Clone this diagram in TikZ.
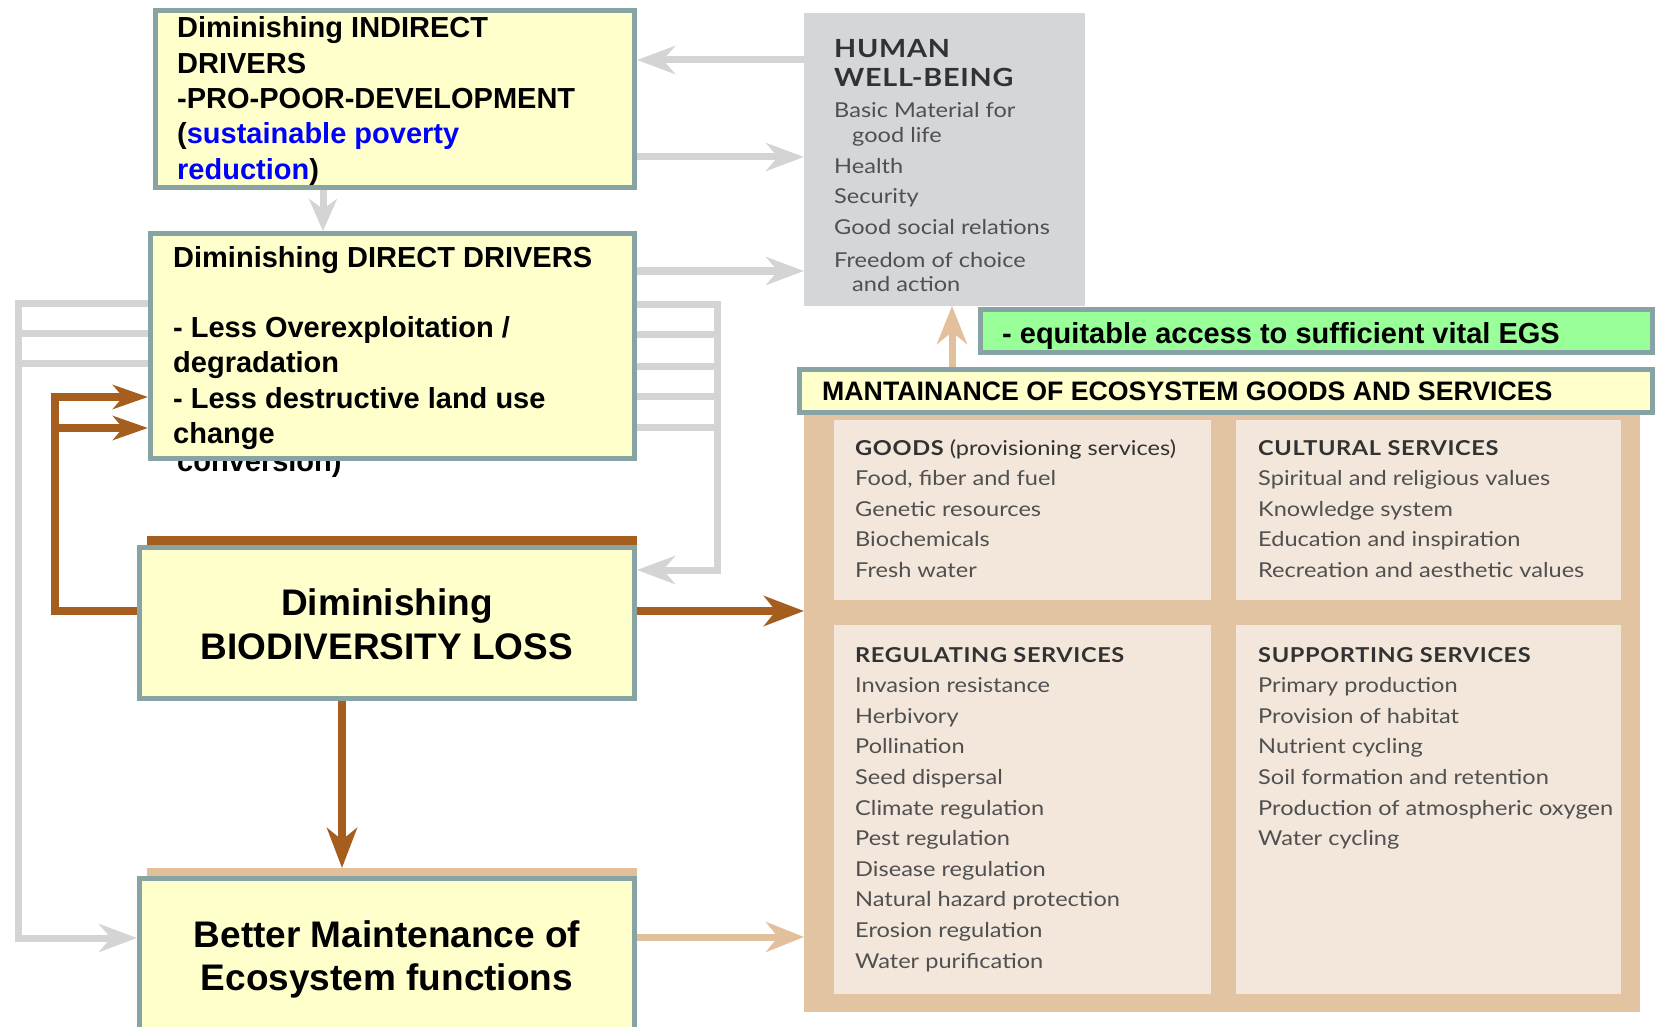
\documentclass[tikz,border=0pt]{standalone}
\usepackage{fontspec}
\setmainfont{Liberation Sans}
\newfontfamily\mafont[FakeStretch=1.15]{Lato}
\newfontfamily\maheadfont[FakeStretch=1.15,LetterSpace=3]{Lato}
\usetikzlibrary{arrows.meta}
\definecolor{boxborder}{RGB}{135,163,163}
\definecolor{boxfill}{RGB}{255,255,204}
\definecolor{conngray}{RGB}{212,212,212}
\definecolor{brownc}{RGB}{166,94,30}
\definecolor{tanarrow}{RGB}{226,192,156}
\definecolor{tanpanel}{RGB}{227,196,162}
\definecolor{cellfill}{RGB}{243,231,219}
\definecolor{hwbfill}{RGB}{212,214,217}
\definecolor{greenfill}{RGB}{153,255,153}
\definecolor{matext}{RGB}{80,80,80}
\definecolor{mahead}{RGB}{50,50,50}
\definecolor{bluetext}{RGB}{0,0,255}
\begin{document}
\begin{tikzpicture}[x=1pt,y=-1pt,
  box/.style={draw=boxborder, fill=boxfill, line width=5pt, inner sep=0pt},
  plain/.style={inner sep=0pt, outer sep=0pt, draw=none},
  gline/.style={draw=conngray, line width=7pt},
  garrow/.style={gline, -{Stealth[length=38pt,width=28pt,inset=12pt]}},
  gsmall/.style={gline, -{Stealth[length=32pt,width=28pt,inset=10pt]}},
  bline/.style={draw=brownc, line width=8pt},
  barrow/.style={bline, -{Stealth[length=40pt,width=30pt,inset=12pt]}},
  bsmall/.style={bline, -{Stealth[length=35pt,width=24pt,inset=10pt]}},
  tarrow/.style={draw=tanarrow, line width=7pt, -{Stealth[length=38pt,width=30pt,inset=12pt]}},
  drvtext/.style={anchor=base west, inner sep=0pt, font=\fontsize{29pt}{35pt}\selectfont\bfseries},
  bigtext/.style={anchor=base, inner sep=0pt, font=\fontsize{37pt}{43pt}\selectfont\bfseries},
  hwbhead/.style={anchor=base west, inner sep=0pt, text=mahead, font=\maheadfont\fontsize{25pt}{30pt}\selectfont\bfseries},
  hwbitem/.style={anchor=base west, inner sep=0pt, text=matext, font=\mafont\fontsize{20.5pt}{25pt}\selectfont},
  cellhead/.style={anchor=base west, inner sep=0pt, text=mahead, font=\maheadfont\fontsize{20.5pt}{25pt}\selectfont\bfseries},
  cellitem/.style={anchor=base west, inner sep=0pt, text=matext, font=\mafont\fontsize{20.5pt}{25pt}\selectfont}
]
\useasboundingbox (0,0) rectangle (1655,1027);
\clip (0,0) rectangle (1655,1027);

% right-hand panels
\node[plain, fill=hwbfill, minimum width=281pt, minimum height=293pt] (hwb) at (944.5,159.5) {};
\node[plain, fill=tanpanel, minimum width=836pt, minimum height=612pt] (pan) at (1222,706) {};
\node[plain, fill=cellfill, minimum width=377pt, minimum height=180pt] (cgood) at (1022.5,510) {};
\node[plain, fill=cellfill, minimum width=385pt, minimum height=180pt] (ccult) at (1428.5,510) {};
\node[plain, fill=cellfill, minimum width=377pt, minimum height=369pt] (creg) at (1022.5,809.5) {};
\node[plain, fill=cellfill, minimum width=385pt, minimum height=369pt] (csup) at (1428.5,809.5) {};

% human well-being text
\node[hwbhead] (h1) at (834,58) {HUMAN};
\node[hwbhead] (h2) at (834,87) {WELL-BEING};
\node[hwbitem] (h3) at (834,118) {Basic Material for};
\node[hwbitem] (h4) at (852,143) {good life};
\node[hwbitem] (h5) at (834,174) {Health};
\node[hwbitem] (h6) at (834,204) {Security};
\node[hwbitem] (h7) at (834,235) {Good social relations};
\node[hwbitem] (h8) at (834,267) {Freedom of choice};
\node[hwbitem] (h9) at (852,291) {and action};

% cell texts
\node[cellhead] (g0) at (855,455) {GOODS{\mafont\mdseries\ (provisioning services)}};
\foreach \t [count=\i] in {{Food, fiber and fuel},Genetic resources,Biochemicals,Fresh water}
  \node[cellitem] (g\i) at (855,455+30.6*\i) {\t};
\node[cellhead] (c0) at (1258,455) {CULTURAL SERVICES};
\foreach \t [count=\i] in {Spiritual and religious values,Knowledge system,Education and inspiration,Recreation and aesthetic values}
  \node[cellitem] (c\i) at (1258,455+30.6*\i) {\t};
\node[cellhead] (r0) at (855,662) {REGULATING SERVICES};
\foreach \t [count=\i] in {Invasion resistance,Herbivory,Pollination,Seed dispersal,Climate regulation,Pest regulation,Disease regulation,Natural hazard protection,Erosion regulation,Water purification}
  \node[cellitem] (r\i) at (855,662+30.6*\i) {\t};
\node[cellhead] (s0) at (1258,662) {SUPPORTING SERVICES};
\foreach \t [count=\i] in {Primary production,Provision of habitat,Nutrient cycling,Soil formation and retention,Production of atmospheric oxygen,Water cycling}
  \node[cellitem] (s\i) at (1258,662+30.6*\i) {\t};

% clipped text under the direct-drivers box
\node[drvtext] (conv) at (177,471) {conversion)};

% boxes
\node[box, minimum width=479pt, minimum height=177pt] (ind) at (395,99) {};
\node[box, minimum width=484pt, minimum height=225pt] (dir) at (392.5,346) {};
\node[plain, fill=brownc, minimum width=490pt, minimum height=11pt] (biobar) at (392,541.5) {};
\node[box, minimum width=495pt, minimum height=151pt] (bio) at (387,623) {};
\node[plain, fill=tanarrow, minimum width=490pt, minimum height=10pt] (betbar) at (392,873) {};
\node[box, minimum width=495pt, minimum height=170pt] (bet) at (387,963.5) {};
\node[box, fill=greenfill, minimum width=672pt, minimum height=43pt] (grn) at (1316.5,331) {};
\node[box, minimum width=853pt, minimum height=43pt] (mnt) at (1226,391) {};

% box texts
\node[drvtext] (i1) at (177,38) {Diminishing INDIRECT};
\node[drvtext] (i2) at (177,73.5) {DRIVERS};
\node[drvtext] (i3) at (177,109) {-PRO-POOR-DEVELOPMENT};
\node[drvtext] (i4) at (177,144) {(\textcolor{bluetext}{sustainable poverty}};
\node[drvtext] (i5) at (177,179.5) {\textcolor{bluetext}{reduction})};
\node[drvtext] (d1) at (173,267) {Diminishing DIRECT DRIVERS};
\node[drvtext] (d2) at (173,337) {- Less Overexploitation /};
\node[drvtext] (d3) at (173,372) {degradation};
\node[drvtext] (d4) at (173,408) {- Less destructive land use};
\node[drvtext] (d5) at (173,443) {change};
\node[bigtext] (b1) at (387,615) {Diminishing};
\node[bigtext] (b2) at (387,659) {BIODIVERSITY LOSS};
\node[bigtext] (e1) at (387,947) {Better Maintenance of};
\node[bigtext] (e2) at (387,990) {Ecosystem functions};
\node[drvtext] (q1) at (1002,343) {- equitable access to sufficient vital EGS};
\node[drvtext, font=\fontsize{26.7pt}{30pt}\selectfont\bfseries] (m1) at (822,400) {MANTAINANCE OF ECOSYSTEM GOODS AND SERVICES};

% gray connectors
\draw[garrow] (hwb.west |- 0,60) -- (ind.east |- 0,60);
\draw[garrow] (ind.east |- 0,157) -- (hwb.west |- 0,157);
\draw[garrow] (dir.east |- 0,271) -- (hwb.west |- 0,271);
\draw[gsmall] (ind.south -| 323,0) -- (dir.north -| 323,0);
\coordinate (lc1) at (18,333);
\coordinate (lc2) at (18,363);
\draw[garrow] (dir.west |- 0,303) -| (18,938) -- (bet.west |- 0,938);
\draw[gline] (lc1) -- (dir.west |- lc1);
\draw[gline] (lc2) -- (dir.west |- lc2);
\coordinate (rc1) at (717,334);
\coordinate (rc2) at (717,366);
\coordinate (rc3) at (717,396);
\coordinate (rc4) at (717,427);
\draw[garrow] (dir.east |- 0,304) -| (717,570) -- (bio.east |- 0,570);
\foreach \c in {rc1,rc2,rc3,rc4} \draw[gline] (dir.east |- \c) -- (\c);

% brown connectors
\coordinate (bl) at (55,428);
\draw[bsmall] (bio.west |- 0,611) -| (55,397) -- (dir.west |- 0,397);
\draw[bsmall] (bl) -- (dir.west |- bl);
\draw[barrow] (bio.south -| 342,0) -- (betbar.north -| 342,0);
\draw[barrow] (bio.east |- 0,611) -- (pan.west |- 0,611);

% tan connectors
\draw[tarrow] (bet.east |- 0,937) -- (pan.west |- 0,937);
\draw[tarrow] (mnt.north -| 952,0) -- (hwb.south -| 952,0);
\end{tikzpicture}
\end{document}
